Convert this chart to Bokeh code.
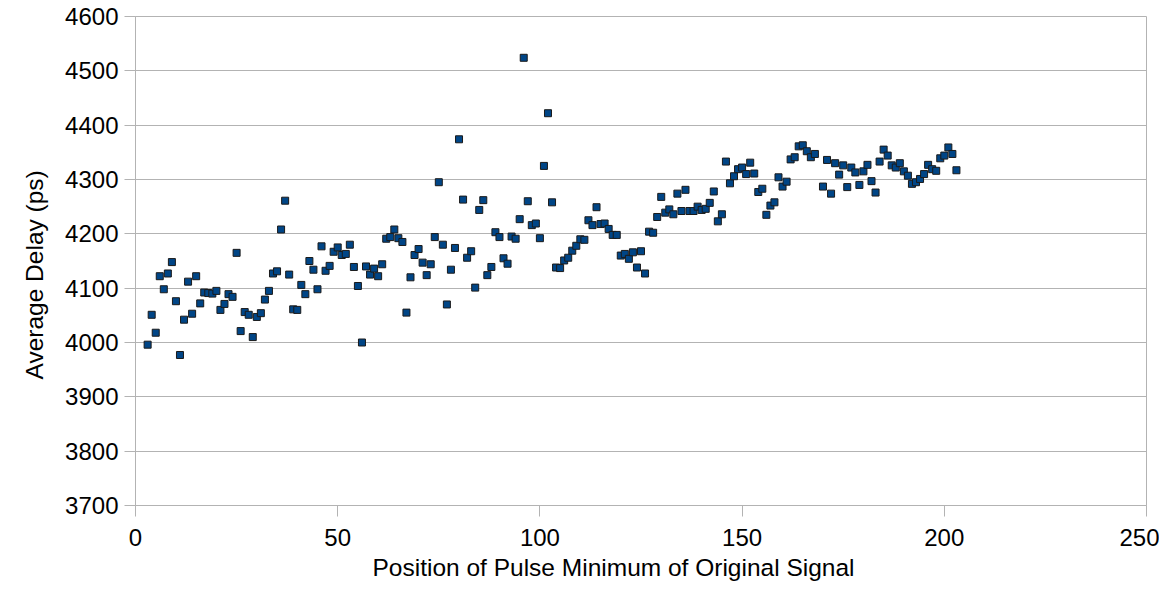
from bokeh.plotting import figure
from bokeh.models import Range1d, FixedTicker, ColumnDataSource, Title
from bokeh.embed import file_html
from bokeh.resources import INLINE

positions = [3, 4, 5, 6, 7, 8, 9, 10, 11, 12, 13, 14, 15, 16, 17, 18, 19, 20,
             21, 22, 23, 24, 25, 26, 27, 28, 29, 30, 31, 32, 33, 34, 35, 36, 37, 38,
             39, 40, 41, 42, 43, 44, 45, 46, 47, 48, 49, 50, 51, 52, 53, 54, 55, 56,
             57, 58, 59, 60, 61, 62, 63, 64, 65, 66, 67, 68, 69, 70, 71, 72, 73, 74,
             75, 76, 77, 78, 79, 80, 81, 82, 83, 84, 85, 86, 87, 88, 89, 90, 91, 92,
             93, 94, 95, 96, 97, 98, 99, 100, 101, 102, 103, 104, 105, 106, 107, 108,
             109, 110, 111, 112, 113, 114, 115, 116, 117, 118, 119, 120, 121, 122,
             123, 124, 125, 126, 127, 128, 129, 130, 131, 132, 133, 134, 135, 136,
             137, 138, 139, 140, 141, 142, 143, 144, 145, 146, 147, 148, 149, 150,
             151, 152, 153, 154, 155, 156, 157, 158, 159, 160, 161, 162, 163, 164,
             165, 166, 167, 168, 170, 171, 172, 173, 174, 175, 176, 177, 178, 179,
             180, 181, 182, 183, 184, 185, 186, 187, 188, 189, 190, 191, 192, 193,
             194, 195, 196, 197, 198, 199, 200, 201, 202, 203]

avg_delay = [3996, 4051, 4018, 4122, 4098, 4127, 4148, 4076, 3977, 4042, 4112, 4053,
             4122, 4072, 4092, 4091, 4090, 4095, 4060, 4071, 4089, 4084, 4165, 4021,
             4056, 4051, 4010, 4047, 4054, 4079, 4095, 4127, 4131, 4208, 4261, 4125,
             4061, 4060, 4106, 4089, 4150, 4134, 4098, 4177, 4132, 4141, 4167, 4175,
             4161, 4163, 4180, 4139, 4104, 4000, 4140, 4125, 4136, 4122, 4144, 4191,
             4194, 4208, 4192, 4185, 4055, 4120, 4161, 4172, 4147, 4124, 4144, 4194,
             4295, 4180, 4070, 4134, 4174, 4374, 4263, 4156, 4168, 4101, 4244, 4262,
             4124, 4139, 4203, 4194, 4155, 4145, 4195, 4191, 4227, 4524, 4260, 4216,
             4219, 4192, 4325, 4422, 4258, 4138, 4137, 4151, 4156, 4169, 4178, 4190,
             4189, 4225, 4216, 4249, 4218, 4219, 4209, 4198, 4198, 4160, 4163, 4154,
             4166, 4138, 4168, 4127, 4204, 4202, 4231, 4268, 4239, 4245, 4236, 4274,
             4242, 4281, 4242, 4242, 4250, 4244, 4246, 4257, 4278, 4223, 4236, 4333,
             4293, 4306, 4319, 4322, 4310, 4331, 4311, 4277, 4283, 4235, 4252, 4258,
             4304, 4287, 4296, 4337, 4341, 4361, 4363, 4352, 4341, 4347, 4287, 4336,
             4274, 4330, 4309, 4326, 4286, 4322, 4313, 4290, 4315, 4327, 4297, 4276,
             4333, 4355, 4344, 4326, 4322, 4330, 4315, 4307, 4292, 4295, 4301, 4310,
             4327, 4319, 4316, 4339, 4344, 4359, 4347, 4317]

x_ticks = [0, 50, 100, 150, 200, 250]
y_ticks = [3700, 3800, 3900, 4000, 4100, 4200, 4300, 4400, 4500, 4600]
x_title = "Position of Pulse Minimum of Original Signal"
y_title = "Average Delay (ps)"

FONT = "Liberation Sans"
GRID = "#b3b3b3"

src = ColumnDataSource(data=dict(x=positions, y=avg_delay))

p = figure(width=1159, height=587, output_backend="svg", toolbar_location=None,
           x_range=Range1d(0, 250), y_range=Range1d(3700, 4600),
           min_border_left=135, min_border_right=13, min_border_top=16,
           min_border_bottom=82)
p.outline_line_color = GRID
p.outline_line_width = 1
p.background_fill_color = "white"
p.border_fill_color = "white"

p.scatter("x", "y", source=src, marker="square", size=7,
          fill_color="#004586", line_color="#1a1a1a", line_width=1)

p.xgrid.visible = False
p.ygrid.grid_line_color = GRID
p.ygrid.grid_line_width = 1
p.xaxis.ticker = FixedTicker(ticks=x_ticks)
p.yaxis.ticker = FixedTicker(ticks=y_ticks)

for ax in (p.xaxis[0], p.yaxis[0]):
    ax.axis_line_color = GRID
    ax.major_tick_line_color = GRID
    ax.major_tick_out = 11
    ax.major_tick_in = 0
    ax.minor_tick_line_color = None
    ax.major_label_text_font = FONT
    ax.major_label_text_font_size = "24px"
    ax.major_label_text_color = "black"

p.xaxis.major_label_standoff = 12
p.yaxis.major_label_standoff = 6

p.add_layout(Title(text=x_title, align="left", offset=237, standoff=7,
                   text_font=FONT, text_font_size="24.5px",
                   text_font_style="normal", text_color="black"), "below")
p.add_layout(Title(text=y_title, align="left", offset=126, standoff=26,
                   vertical_align="top",
                   text_font=FONT, text_font_size="24.5px",
                   text_font_style="normal", text_color="black"), "left")

open("out.html", "w").write(file_html(p, INLINE))
